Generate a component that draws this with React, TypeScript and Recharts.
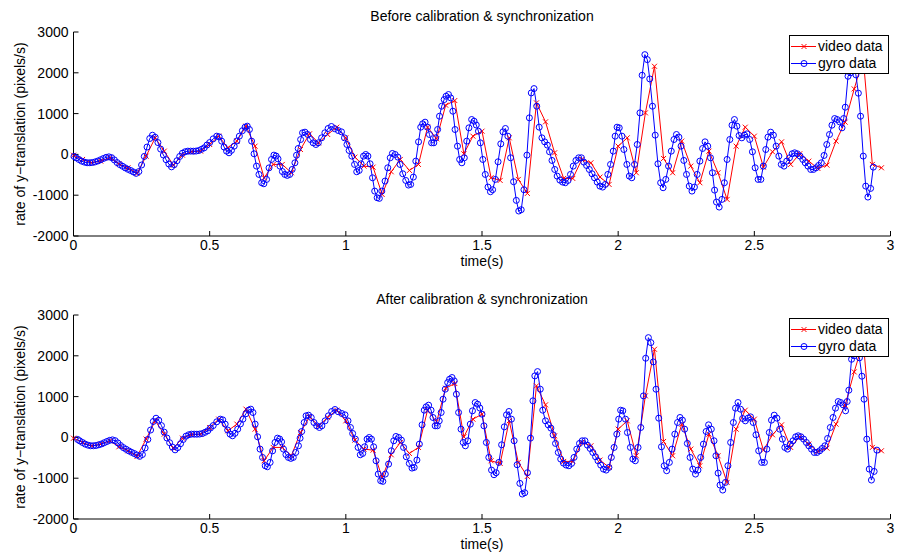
import { LineChart, Line, XAxis, YAxis, Legend } from 'recharts';

const FONT = '"Liberation Sans", Arial, Helvetica, sans-serif';

const xTicks = [0, 0.5, 1, 1.5, 2, 2.5, 3];
const yTicks = [-2000, -1000, 0, 1000, 2000, 3000];

const panelTitles = ['Before calibration & synchronization', 'After calibration & synchronization'];

// video frames, 30 fps
const videoRate = [
  -20, -124, -206, -165, -83, -230, -328, -467, -42, 406,
  80, -263, -18, 64, 80, 243, 447, 161, 325, 692,
  202, -573, -246, -246, -450, 120, 504, 284, 488, 667,
  406, -67, -287, -312, -981, -426, -124, -393, -246, 667,
  382, 1206, 1320, 15, 447, 569, -573, -638, 406, -613,
  -956, 1263, 798, 39, -589, -589, -124, -206, -556, -736,
  202, 406, -450, 1018, 2160, -100, -450, 325, -287, -695,
  80, -450, -1103, 202, 667, 447, -312, 64, 308, -246,
  15, -165, -344, -263, 325, 790, 1605, 2350, -246, -328,
];
const videoFps = 30;

const gyroTime = [
  0.002, 0.01, 0.02, 0.03, 0.04, 0.05, 0.06, 0.07, 0.08, 0.09,
  0.1, 0.11, 0.12, 0.13, 0.14, 0.15, 0.16, 0.17, 0.18, 0.19,
  0.2, 0.21, 0.22, 0.23, 0.24, 0.25, 0.26, 0.27, 0.28, 0.29,
  0.3, 0.31, 0.32, 0.33, 0.34, 0.35, 0.36, 0.37, 0.38, 0.39,
  0.4, 0.41, 0.42, 0.43, 0.44, 0.45, 0.46, 0.47, 0.48, 0.49,
  0.5, 0.513, 0.526, 0.535, 0.544, 0.553, 0.562, 0.571, 0.58, 0.59,
  0.6, 0.609, 0.62, 0.63, 0.638, 0.646, 0.654, 0.663, 0.672, 0.681,
  0.691, 0.699, 0.709, 0.718, 0.727, 0.736, 0.744, 0.751, 0.758, 0.767,
  0.776, 0.785, 0.794, 0.803, 0.813, 0.819, 0.825, 0.834, 0.841, 0.85,
  0.86, 0.87, 0.88, 0.89, 0.899, 0.911, 0.923, 0.935, 0.947, 0.959,
  0.972, 0.984, 0.995, 1.004, 1.012, 1.022, 1.032, 1.04, 1.049, 1.056,
  1.065, 1.073, 1.081, 1.089, 1.098, 1.106, 1.115, 1.123, 1.132, 1.144,
  1.154, 1.163, 1.171, 1.181, 1.191, 1.199, 1.209, 1.22, 1.23, 1.238,
  1.248, 1.257, 1.267, 1.275, 1.282, 1.291, 1.3, 1.307, 1.315, 1.323,
  1.33, 1.337, 1.344, 1.352, 1.361, 1.368, 1.377, 1.385, 1.393, 1.401,
  1.41, 1.418, 1.426, 1.435, 1.444, 1.452, 1.462, 1.471, 1.479, 1.487,
  1.494, 1.503, 1.512, 1.522, 1.531, 1.539, 1.549, 1.559, 1.569, 1.577,
  1.586, 1.595, 1.605, 1.616, 1.626, 1.635, 1.644, 1.654, 1.665, 1.674,
  1.681, 1.691, 1.701, 1.71, 1.72, 1.73, 1.74, 1.748, 1.757, 1.767,
  1.776, 1.786, 1.796, 1.806, 1.816, 1.825, 1.835, 1.845, 1.855, 1.865,
  1.874, 1.884, 1.894, 1.904, 1.913, 1.923, 1.933, 1.943, 1.953, 1.962,
  1.972, 1.982, 1.989, 1.996, 2.004, 2.014, 2.021, 2.032, 2.041, 2.05,
  2.06, 2.07, 2.08, 2.088, 2.098, 2.107, 2.116, 2.126, 2.136, 2.146,
  2.156, 2.165, 2.175, 2.185, 2.195, 2.205, 2.214, 2.223, 2.231, 2.241,
  2.251, 2.261, 2.271, 2.28, 2.29, 2.3, 2.31, 2.319, 2.329, 2.339,
  2.346, 2.354, 2.361, 2.371, 2.381, 2.39, 2.4, 2.41, 2.418, 2.427,
  2.436, 2.444, 2.454, 2.464, 2.473, 2.483, 2.493, 2.503, 2.514, 2.524,
  2.533, 2.542, 2.55, 2.56, 2.57, 2.58, 2.59, 2.599, 2.609, 2.619,
  2.629, 2.639, 2.648, 2.658, 2.668, 2.678, 2.687, 2.697, 2.707, 2.717,
  2.727, 2.736, 2.746, 2.756, 2.766, 2.776, 2.785, 2.795, 2.804, 2.813,
  2.822, 2.828, 2.834, 2.844, 2.853, 2.863, 2.873, 2.882, 2.89, 2.9,
  2.909, 2.917, 2.927, 2.937,
];

const gyroRate = [
  -50, -85, -125, -165, -190, -205, -205, -198, -182, -160,
  -130, -100, -72, -60, -80, -135, -200, -250, -290, -330,
  -365, -395, -430, -465, -420, -260, -50, 180, 390, 470,
  420, 290, 130, -15, -130, -235, -305, -250, -155, -50,
  30, 65, 80, 80, 78, 82, 95, 125, 161, 230,
  290, 382, 447, 430, 325, 180, 80, 39, 100, 202,
  330, 447, 580, 667, 692, 610, 325, 15, -287, -491,
  -695, -720, -613, -330, -124, -18, -40, -110, -287, -420,
  -491, -515, -491, -369, -206, -20, 145, 365, 529, 545,
  488, 365, 284, 243, 284, 406, 529, 635, 684, 630,
  586, 553, 406, 243, 96, -42, -246, -426, -393, -230,
  -42, -2, -42, -230, -573, -899, -1062, -1078, -899, -654,
  -328, -83, 23, -2, -67, -246, -475, -638, -752, -736,
  -556, -165, 308, 667, 749, 790, 667, 488, 284, 284,
  406, 610, 936, 1181, 1344, 1426, 1467, 1385, 1059, 610,
  202, -124, -206, -83, 325, 651, 855, 814, 720, 569,
  284, -124, -491, -801, -915, -866, -613, -181, 259, 553,
  635, 447, -83, -670, -1127, -1388, -1356, -866, -18, 896,
  1507, 1613, 1181, 667, 406, 308, 227, 64, -148, -369,
  -532, -630, -679, -695, -638, -491, -287, -148, -83, -83,
  -189, -271, -369, -475, -573, -679, -777, -801, -736, -491,
  -246, 80, 447, 667, 651, 447, 120, -246, -532, -573,
  -246, 243, 1018, 1940, 2445, 2323, 1850, 1181, 472, -230,
  -695, -817, -613, -287, 80, 365, 488, 423, 202, -148,
  -491, -777, -899, -801, -491, -165, 145, 308, 202, -83,
  -450, -875, -1168, -1291, -1103, -695, -124, 365, 716, 855,
  692, 463, 406, 472, 504, 365, 64, -328, -613, -613,
  -287, 120, 423, 545, 472, 202, -42, -246, -287, -165,
  -83, 15, 39, 15, -42, -124, -206, -287, -369, -369,
  -328, -271, -206, -26, 243, 488, 716, 879, 855, 798,
  651, 879, 1157, 1915, 2000, 2050, 1950, 1500, 936, -42,
  -777, -1046, -834, -312,
];

// gyro delay recovered by the synchronization step (seconds)
const syncDelay = 0.013;

const legendItems = [
  { label: 'video data', color: '#ff0000', marker: 'x' },
  { label: 'gyro data', color: '#0000ff', marker: 'o' },
];

const videoData = videoRate.map((v, i) => ({ t: i / videoFps, v }));
const gyroBefore = gyroTime.map((t, i) => ({ t, v: gyroRate[i] }));
const gyroAfter = gyroTime.map((t, i) => ({ t: t + syncDelay, v: gyroRate[i] }));

const Cross = (props: any) => {
  const { cx, cy, index } = props;
  if (cx == null || cy == null) return <g key={index} />;
  const s = 2.5;
  return (
    <path
      key={index}
      d={`M${cx - s},${cy - s}L${cx + s},${cy + s}M${cx - s},${cy + s}L${cx + s},${cy - s}`}
      stroke="#ff0000"
      strokeWidth={1}
      fill="none"
    />
  );
};

const LegendBox = () => (
  <div
    style={{
      width: 100,
      height: 39,
      border: '1px solid #000',
      background: '#fff',
      boxSizing: 'border-box',
      position: 'relative',
      fontFamily: FONT,
      fontSize: 14,
      color: '#000',
    }}
  >
    {legendItems.map((it, i) => (
      <div key={it.label} style={{ position: 'absolute', left: 0, top: 2 + i * 17.7, height: 17, display: 'flex', alignItems: 'center' }}>
        <svg width={28} height={17} style={{ display: 'block' }}>
          <line x1={1} x2={26} y1={8.5} y2={8.5} stroke={it.color} strokeWidth={1} />
          {it.marker === 'x' ? (
            <path d="M11.5,6L16.5,11M11.5,11L16.5,6" stroke={it.color} strokeWidth={1} />
          ) : (
            <circle cx={14} cy={8.5} r={3} stroke={it.color} fill="none" strokeWidth={1} />
          )}
        </svg>
        <span style={{ lineHeight: '17px', whiteSpace: 'nowrap' }}>{it.label}</span>
      </div>
    ))}
  </div>
);

const axisStyle = { stroke: '#000', strokeWidth: 1 };
const tickStyle = { fill: '#000', fontSize: 14, fontFamily: FONT };
const textStyle: any = { position: 'absolute', fontFamily: FONT, fontSize: 14, lineHeight: '14px', color: '#000', whiteSpace: 'nowrap' };

function Panel({ top, title, gyro }: { top: number; title: string; gyro: { t: number; v: number }[] }) {
  return (
    <div style={{ position: 'absolute', left: 0, top, width: 899, height: 278 }}>
      <LineChart width={899} height={278} margin={{ top: 32, right: 8.5, bottom: 0, left: 0 }}>
        <XAxis
          xAxisId="b"
          type="number"
          dataKey="t"
          domain={[0, 3]}
          ticks={xTicks}
          interval={0}
          height={42}
          tickSize={-5}
          tickMargin={9}
          axisLine={axisStyle}
          tickLine={axisStyle}
          tick={tickStyle}
        />
        <XAxis
          xAxisId="t"
          orientation="top"
          type="number"
          dataKey="t"
          domain={[0, 3]}
          ticks={xTicks}
          interval={0}
          height={0}
          tickSize={-5}
          axisLine={axisStyle}
          tickLine={axisStyle}
          tick={false}
        />
        <YAxis
          yAxisId="l"
          type="number"
          domain={[-2000, 3000]}
          ticks={yTicks}
          interval={0}
          width={73.5}
          tickSize={-5}
          tickMargin={10}
          axisLine={axisStyle}
          tickLine={axisStyle}
          tick={tickStyle}
        />
        <YAxis
          yAxisId="r"
          orientation="right"
          type="number"
          domain={[-2000, 3000]}
          ticks={yTicks}
          interval={0}
          width={0}
          tickSize={-5}
          axisLine={axisStyle}
          tickLine={axisStyle}
          tick={false}
        />
        <Legend
          layout="vertical"
          align="center"
          verticalAlign="middle"
          wrapperStyle={{ left: 789, top: 34.5, width: 100, height: 39 }}
          content={() => <LegendBox />}
        />
        <Line
          xAxisId="b"
          yAxisId="l"
          data={videoData}
          dataKey="v"
          type="linear"
          stroke="#ff0000"
          strokeWidth={1}
          dot={Cross}
          activeDot={false}
          isAnimationActive={false}
        />
        <Line
          xAxisId="b"
          yAxisId="l"
          data={gyro}
          dataKey="v"
          type="linear"
          stroke="#0000ff"
          strokeWidth={1}
          dot={{ r: 3, stroke: '#0000ff', strokeWidth: 1, fill: 'none' }}
          activeDot={false}
          isAnimationActive={false}
        />
      </LineChart>
      <div style={{ ...textStyle, left: 73.5, width: 817, textAlign: 'center', top: 9 }}>{title}</div>
      <div style={{ ...textStyle, left: 73.5, width: 817, textAlign: 'center', top: 254 }}>time(s)</div>
      <div
        style={{
          ...textStyle,
          left: 20 - 130,
          top: 134 - 7,
          width: 260,
          height: 14,
          textAlign: 'center',
          transform: 'rotate(-90deg)',
          transformOrigin: '50% 50%',
        }}
      >
        rate of y−translation (pixels/s)
      </div>
    </div>
  );
}

export default function App() {
  return (
    <div style={{ position: 'absolute', left: 0, top: 0, width: 899, height: 557, background: '#fff' }}>
      <Panel top={0} title={panelTitles[0]} gyro={gyroBefore} />
      <Panel top={283} title={panelTitles[1]} gyro={gyroAfter} />
    </div>
  );
}
